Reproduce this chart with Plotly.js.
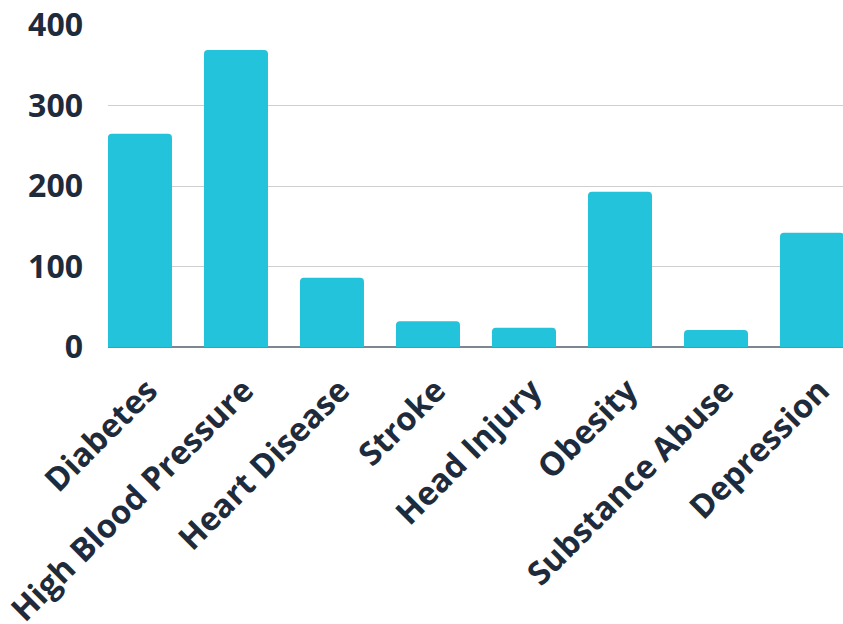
<!DOCTYPE html>
<html>
<head>
<meta charset="utf-8">
<script src="https://cdn.plot.ly/plotly-3.0.1.min.js"></script>
<style>html,body{margin:0;padding:0;background:#fff;}#chart{width:843px;height:624px;}</style>
</head>
<body>
<div id="chart"></div>
<script>
const categories = ["Diabetes", "High Blood Pressure", "Heart Disease", "Stroke", "Head Injury", "Obesity", "Substance Abuse", "Depression"];
const values = [265, 369, 86, 32, 24, 193, 21, 142];
const yTicks = [0, 100, 200, 300, 400];

const textColor = "#1e2b3c";
const trace = {
  type: "bar",
  x: categories,
  y: values,
  marker: { color: "#24c3dc", cornerradius: 4 },
  hoverinfo: "x+y"
};
const layout = {
  width: 843, height: 624,
  margin: { l: 108, r: 0, t: 25, b: 277, pad: 0 },
  paper_bgcolor: "#ffffff", plot_bgcolor: "rgba(0,0,0,0)",
  bargap: 0.333,
  showlegend: false,
  font: { family: "Open Sans, sans-serif", color: textColor },
  xaxis: {
    type: "category",
    range: [-0.333, 7.323],
    tickangle: -45,
    tickfont: { family: "Open Sans", size: 32.5, color: textColor, weight: 700 },
    ticklabelstandoff: 17,
    ticklabelshift: 8,
    showgrid: false, zeroline: false, showline: false, ticks: ""
  },
  yaxis: {
    range: [0, 400],
    tickvals: yTicks,
    ticktext: yTicks.map(String),
    tickfont: { family: "Open Sans", size: 32, color: textColor, weight: 700 },
    ticklabelstandoff: 24,
    showgrid: true, gridcolor: "#cfcfd2", gridwidth: 1,
    zeroline: true, zerolinecolor: "#7d8791", zerolinewidth: 1.5,
    showline: false, ticks: ""
  }
};
Plotly.newPlot("chart", [trace], layout, { displayModeBar: false, staticPlot: true });
</script>
</body>
</html>
